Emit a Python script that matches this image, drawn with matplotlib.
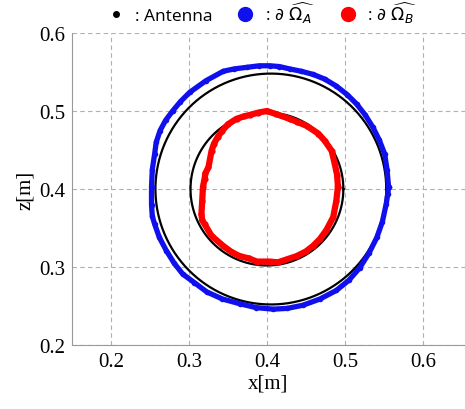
import numpy as np
import matplotlib.pyplot as plt
from matplotlib.lines import Line2D

plt.rcParams['font.family'] = ['Liberation Serif', 'DejaVu Serif']
plt.rcParams['mathtext.fontset'] = 'dejavusans'

# boundary of reconstructed region A (blue)
blue_x = [0.556, 0.554, 0.551, 0.544, 0.536, 0.526, 0.515, 0.503, 0.489, 0.474, 0.459, 0.444, 0.429,
          0.416, 0.404, 0.390, 0.374, 0.358, 0.344, 0.322, 0.301, 0.289, 0.279, 0.270, 0.263, 0.258,
          0.256, 0.253, 0.252, 0.252, 0.253, 0.256, 0.262, 0.271, 0.281, 0.292, 0.307, 0.323, 0.343,
          0.365, 0.386, 0.408, 0.426, 0.446, 0.468, 0.489, 0.505, 0.519, 0.531, 0.541, 0.548, 0.553,
          0.555, 0.556]
blue_z = [0.403, 0.425, 0.445, 0.463, 0.479, 0.495, 0.509, 0.521, 0.532, 0.541, 0.547, 0.551, 0.554,
          0.557, 0.558, 0.558, 0.556, 0.554, 0.551, 0.539, 0.524, 0.512, 0.500, 0.488, 0.475, 0.460,
          0.445, 0.425, 0.403, 0.380, 0.365, 0.355, 0.338, 0.321, 0.305, 0.291, 0.280, 0.268, 0.259,
          0.253, 0.248, 0.246, 0.247, 0.251, 0.259, 0.270, 0.283, 0.299, 0.318, 0.338, 0.358, 0.381,
          0.394, 0.403]

# boundary of reconstructed region B (red)
red_x = [0.491, 0.490, 0.487, 0.483, 0.474, 0.466, 0.451, 0.439, 0.429, 0.412, 0.400, 0.389, 0.378,
         0.370, 0.361, 0.350, 0.343, 0.337, 0.332, 0.329, 0.325, 0.321, 0.320, 0.318, 0.317, 0.316,
         0.317, 0.320, 0.329, 0.344, 0.355, 0.365, 0.377, 0.387, 0.404, 0.414, 0.438, 0.450, 0.459,
         0.468, 0.476, 0.485, 0.489, 0.491]
red_z = [0.403, 0.418, 0.432, 0.449, 0.462, 0.471, 0.481, 0.486, 0.490, 0.496, 0.500, 0.498, 0.495,
         0.493, 0.490, 0.483, 0.475, 0.467, 0.458, 0.449, 0.428, 0.420, 0.413, 0.403, 0.385, 0.368,
         0.360, 0.355, 0.340, 0.327, 0.319, 0.314, 0.311, 0.307, 0.307, 0.306, 0.314, 0.320, 0.327,
         0.336, 0.347, 0.364, 0.385, 0.403]

# true boundaries (black circles): centre x, centre z, radius
circle_cx = [0.405, 0.400]
circle_cz = [0.400, 0.400]
circle_r = [0.148, 0.098]

ticks = [0.2, 0.3, 0.4, 0.5, 0.6]
tick_labels = ['0.2', '0.3', '0.4', '0.5', '0.6']

fig = plt.figure(figsize=(4.65, 4.1), dpi=100)
ax = fig.add_axes([0.1548, 0.156, 0.8452, 0.761])

t = np.linspace(0, 2 * np.pi, 400)
for cx, cz, r in zip(circle_cx, circle_cz, circle_r):
    ax.plot(cx + r * np.cos(t), cz + r * np.sin(t), color='black', lw=1.6, zorder=2)

ax.plot(blue_x, blue_z, color='#1010ee', lw=3.8, marker='o', ms=4, mew=0,
        solid_capstyle='round', solid_joinstyle='round', zorder=3)
ax.plot(red_x, red_z, color='#ff0000', lw=4.5, marker='o', ms=4.5, mew=0,
        solid_capstyle='round', solid_joinstyle='round', zorder=4)

ax.set_xlim(0.15, 0.654)
ax.set_ylim(0.2, 0.6)
ax.set_xticks(ticks)
ax.set_yticks(ticks)
ax.set_xticklabels(tick_labels)
ax.set_yticklabels(tick_labels)
ax.tick_params(length=0, pad=5, labelsize=15)
ax.set_xlabel('x[m]', fontsize=15, labelpad=2)
ax.set_ylabel('z[m]', fontsize=15, labelpad=3)
ax.grid(True, color='#b0b0b0', linestyle=(0, (4, 3)), lw=0.8)
ax.set_axisbelow(True)
for s in ['top', 'right']:
    ax.spines[s].set_visible(False)
for s in ['left', 'bottom']:
    ax.spines[s].set_color('#999999')

handles = [
    Line2D([], [], color='black', marker='o', ls='none', ms=4),
    Line2D([], [], color='#1010ee', marker='o', ls='none', ms=10),
    Line2D([], [], color='#ff0000', marker='o', ls='none', ms=10),
]
labels = [': Antenna', r': $\partial\ \widehat{\Omega_A}$', r': $\partial\ \widehat{\Omega_B}$']
fig.legend(handles, labels, loc='upper center', bbox_to_anchor=(0.555, 1.035), ncol=3, frameon=False,
           handletextpad=0.1, columnspacing=0.9, prop={'family': 'Open Sans', 'size': 12.5})

fig.savefig('out.png', dpi=100)
